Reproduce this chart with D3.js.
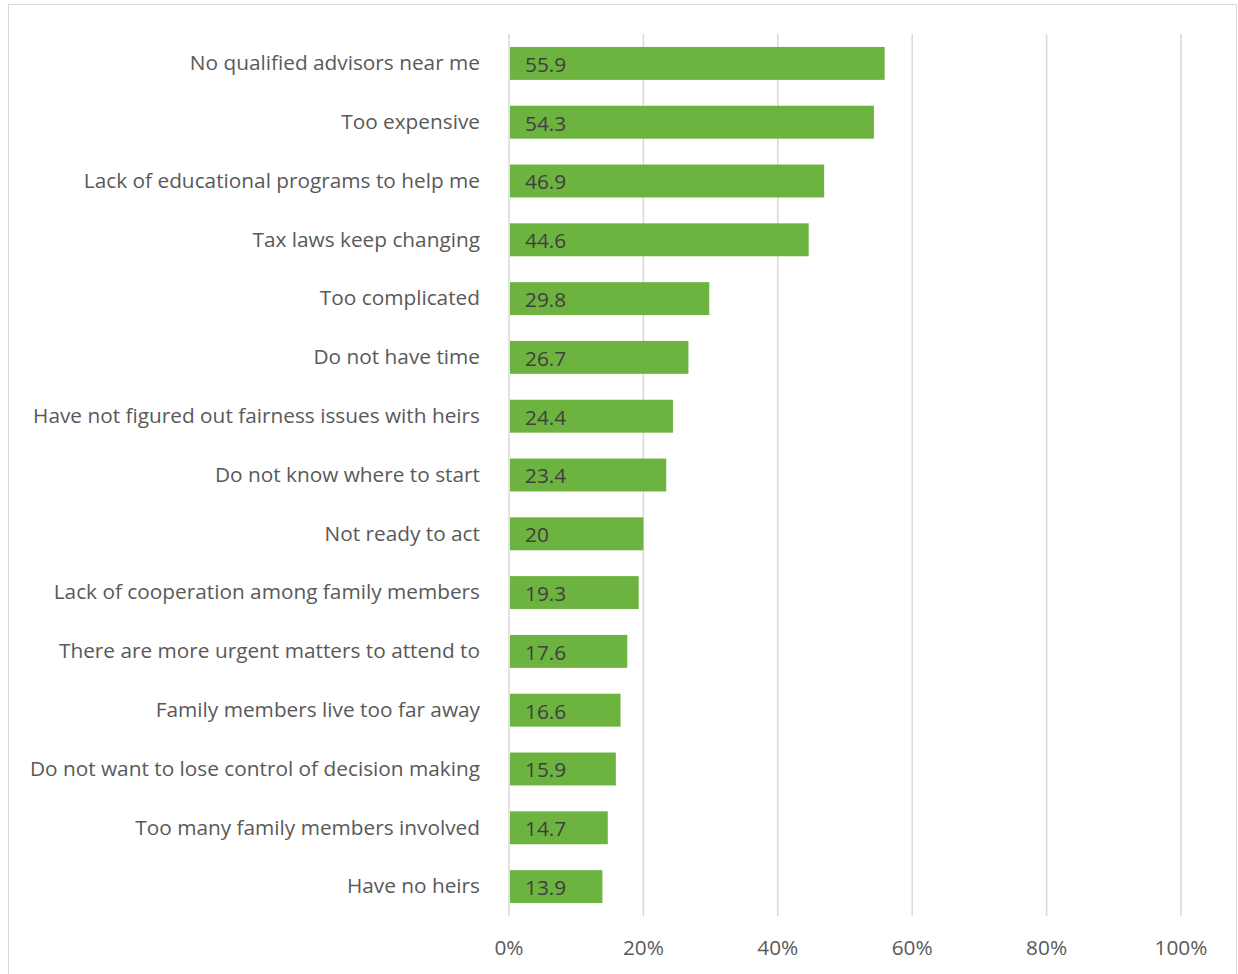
<!DOCTYPE html>
<html><head><meta charset="utf-8">
<script src="https://cdn.jsdelivr.net/npm/d3@7"></script>
<style>body{margin:0;background:#fff}svg{display:block}</style>
</head><body><svg id="c" width="1238" height="974"></svg>
<script>
const categories = ["No qualified advisors near me","Too expensive","Lack of educational programs to help me","Tax laws keep changing","Too complicated","Do not have time","Have not figured out fairness issues with heirs","Do not know where to start","Not ready to act","Lack of cooperation among family members","There are more urgent matters to attend to","Family members live too far away","Do not want to lose control of decision making","Too many family members involved","Have no heirs"];
const values = [55.9,54.3,46.9,44.6,29.8,26.7,24.4,23.4,20,19.3,17.6,16.6,15.9,14.7,13.9];
const ticks = [0,20,40,60,80,100];

const svg = d3.select("#c");
const font = "'Open Sans', sans-serif";
const fs = 20.8;
svg.append("rect").attr("x",8.5).attr("y",4.5).attr("width",1228).attr("height",975).attr("fill","#fff").attr("stroke","#d9d9d9").attr("stroke-width",1);

const x = d3.scaleLinear().domain([0,100]).range([509,1181]);
const y = d3.scaleBand().domain(categories).range([34,916]).paddingInner(0.44).paddingOuter(0.22);

svg.append("g").selectAll("line").data(ticks).join("line")
  .attr("x1",d=>x(d)).attr("x2",d=>x(d)).attr("y1",34).attr("y2",916)
  .attr("stroke","#d9d9d9").attr("stroke-width",1.5);

svg.append("g").selectAll("rect").data(values).join("rect")
  .attr("x",x(0)+1).attr("y",(d,i)=>y(categories[i]))
  .attr("width",d=>x(d)-x(0)-1).attr("height",y.bandwidth()).attr("fill","#6db33f");

svg.append("g").selectAll("text").data(values).join("text")
  .attr("x",x(0)+16).attr("y",(d,i)=>y(categories[i])+y.bandwidth()/2)
  .attr("dy","0.4em").attr("fill","#404040").attr("font-family",font).attr("font-size",fs)
  .text(d=>d);

svg.append("g").selectAll("text").data(categories).join("text")
  .attr("x",480).attr("y",d=>y(d)+y.bandwidth()/2).attr("dy","0.33em")
  .attr("text-anchor","end").attr("fill","#595959").attr("font-family",font).attr("font-size",fs)
  .text(d=>d);

svg.append("g").selectAll("text").data(ticks).join("text")
  .attr("x",d=>x(d)).attr("y",948).attr("dy","0.36em").attr("text-anchor","middle")
  .attr("fill","#595959").attr("font-family",font).attr("font-size",fs)
  .text(d=>d+"%");
</script></body></html>
